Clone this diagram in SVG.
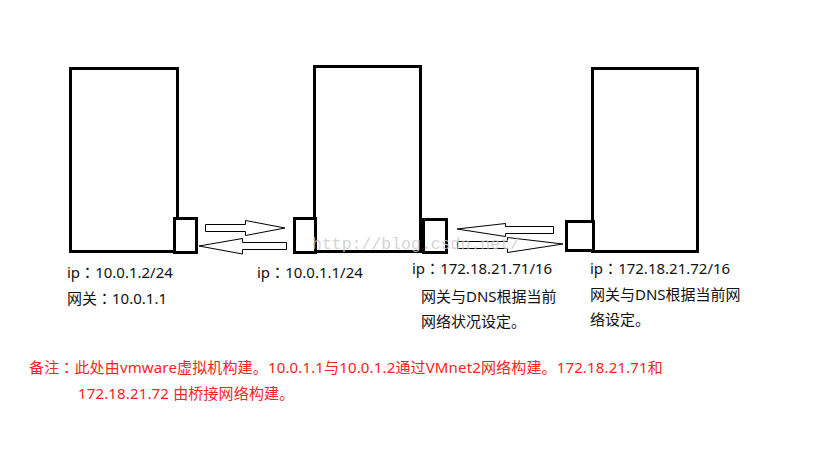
<svg xmlns="http://www.w3.org/2000/svg" width="819" height="460" viewBox="0 0 819 460">
<style>
.box{fill:#fff;stroke:#000;stroke-width:3}
.port{fill:#fff;stroke:#000;stroke-width:3}
.arrow{fill:#fff;stroke:#000;stroke-width:1;stroke-linejoin:miter}
.t{font-family:"Noto Sans","Noto Sans CJK SC",sans-serif;font-size:15px;fill:#111}
.r{font-family:"Noto Sans","Noto Sans CJK SC",sans-serif;font-size:15px;fill:#f22;letter-spacing:0.15px}
.c{font-family:"Noto Sans CJK TC",sans-serif}
.wm{font-family:"Liberation Mono",monospace;font-size:16.5px;fill:#c8c8c8;fill-opacity:0.8}
</style>
<rect width="819" height="460" fill="#fff"/>
<g id="host1">
<rect class="box" x="70.5" y="68.5" width="107" height="183"/>
<rect class="port" x="174.5" y="218.5" width="22" height="34"/>
</g>
<g id="host2">
<rect class="box" x="314.5" y="66.5" width="106" height="185"/>
<rect class="port" x="294.5" y="218.5" width="21" height="34"/>
<rect class="port" x="423.5" y="219.5" width="23" height="33"/>
</g>
<g id="host3">
<rect class="box" x="592.5" y="68.5" width="105" height="183"/>
<rect class="port" x="566.5" y="221.5" width="27" height="29"/>
</g>
<g id="connectors">
<polygon class="arrow" points="205.5,224.5 245.5,224.5 245.5,220.5 285,228 245.5,235.5 245.5,231.5 205.5,231.5"/>
<polygon class="arrow" points="199,246 242.5,238.5 242.5,242.5 286.5,242.5 286.5,249.5 242.5,249.5 242.5,254"/>
<polygon class="arrow" points="457,229 505.5,223.5 505.5,226.5 553.5,226.5 553.5,233.5 505.5,233.5 505.5,236.5"/>
<polygon class="arrow" points="457.5,241.5 507.5,241.5 507.5,237.5 563,244 507.5,252.5 507.5,248.5 457.5,248.5"/>
</g>
<g id="label-host1">
<text class="t" x="67" y="278">ip<tspan class="c">：</tspan>10.0.1.2/24</text>
<text class="t" x="67" y="304">网关<tspan class="c">：</tspan>10.0.1.1</text>
</g>
<g id="label-host2">
<text class="t" x="257" y="278">ip<tspan class="c">：</tspan>10.0.1.1/24</text>
</g>
<g id="label-host2b">
<text class="t" x="412" y="274">ip<tspan class="c">：</tspan>172.18.21.71/16</text>
<text class="t" x="421" y="302">网关与DNS根据当前</text>
<text class="t" x="421" y="327">网络状况设定。</text>
</g>
<g id="label-host3">
<text class="t" x="590" y="274">ip<tspan class="c">：</tspan>172.18.21.72/16</text>
<text class="t" x="590" y="300">网关与DNS根据当前网</text>
<text class="t" x="590" y="325">络设定。</text>
</g>
<g id="note">
<text class="r" x="29" y="373">备注<tspan class="c">：</tspan>此处由vmware虚拟机构建。10.0.1.1与10.0.1.2通过VMnet2网络构建。172.18.21.71和</text>
<text class="r" x="78" y="399">172.18.21.72 由桥接网络构建。</text>
</g>
<text class="wm" x="312" y="249">http://blog.csdn.net/</text>
</svg>
